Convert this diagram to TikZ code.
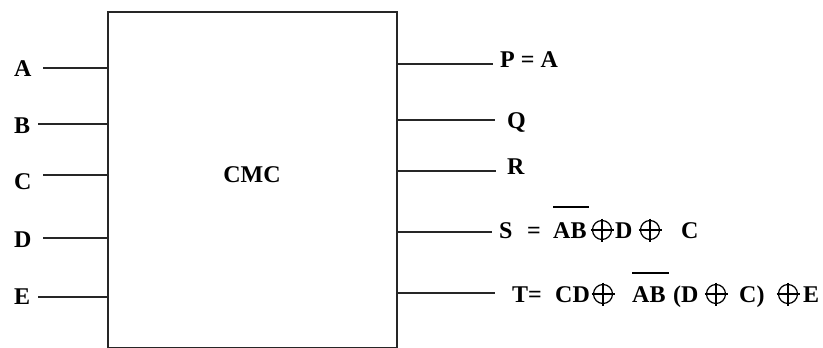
\documentclass[tikz,border=0pt]{standalone}
\usepackage{fontspec}
\setmainfont{Liberation Serif}
\begin{document}
\begin{tikzpicture}[x=1pt,y=-1pt,
  wire/.style={line width=1.6pt, draw=black!85},
  lbl/.style={inner sep=0pt, anchor=base west, font=\fontsize{24}{28}\selectfont\bfseries},
  ovl/.style={line width=1.4pt},
  xorsym/.pic={\draw[line width=1.2pt] (0,0) circle (9.5);
                \draw[line width=1.2pt] (-11.5,0) -- (11.5,0) (0,-11.5) -- (0,11.5);}]
\useasboundingbox (0,0) rectangle (823,348);
% box
\node[wire, draw, minimum width=289pt, minimum height=336pt, inner sep=0pt, anchor=north west] (box) at (107,11) {};
\node[lbl, anchor=base] (cmc) at (252,182) {CMC};
% inputs
\foreach \n/\y/\xs in {A/68/43, B/124/38, C/175/43, D/238/43, E/297/38}{
  \coordinate (in\n) at (\xs,\y);
  \coordinate (bx\n) at (box.west |- 0,\y);
  \draw[wire] (in\n) -- (bx\n);
}
\node[lbl] (lA) at (14,76) {A};
\node[lbl] (lB) at (14,133) {B};
\node[lbl] (lC) at (14,189) {C};
\node[lbl] (lD) at (14,247) {D};
\node[lbl] (lE) at (14,304) {E};
% outputs
\foreach \n/\y/\xe in {P/64/493, Q/120/495, R/171/496, S/232/492, T/293/495}{
  \coordinate (bo\n) at (box.east |- 0,\y);
  \coordinate (out\n) at (\xe,\y);
  \draw[wire] (bo\n) -- (out\n);
}
\node[lbl] (lP) at (500,67) {P = A};
\node[lbl] (lQ) at (507,128) {Q};
\node[lbl] (lR) at (507,174) {R};
% S row
\node[lbl] (s1) at (499,238) {S};
\node[lbl] (s2) at (527,238) {=};
\node[lbl] (s3) at (553,238) {AB};
\draw[ovl] (s3.west |- 0,207) -- ([xshift=2pt]s3.east |- 0,207);
\pic at (602,230) {xorsym};
\node[lbl] (s4) at (615,238) {D};
\pic at (650,230) {xorsym};
\node[lbl] (s5) at (681,238) {C};
% T row
\node[lbl] (t1) at (512,302) {T};
\node[lbl] (t2) at (528,302) {=};
\node[lbl] (t3) at (555,302) {CD};
\pic at (603,294) {xorsym};
\node[lbl] (t4) at (632,302) {AB};
\draw[ovl] (t4.west |- 0,273) -- ([xshift=3pt]t4.east |- 0,273);
\node[lbl] (t5) at (673,302) {(D};
\pic at (716,294) {xorsym};
\node[lbl] (t6) at (739,302) {C)};
\pic at (788,294) {xorsym};
\node[lbl] (t7) at (803,302) {E};
\end{tikzpicture}
\end{document}
